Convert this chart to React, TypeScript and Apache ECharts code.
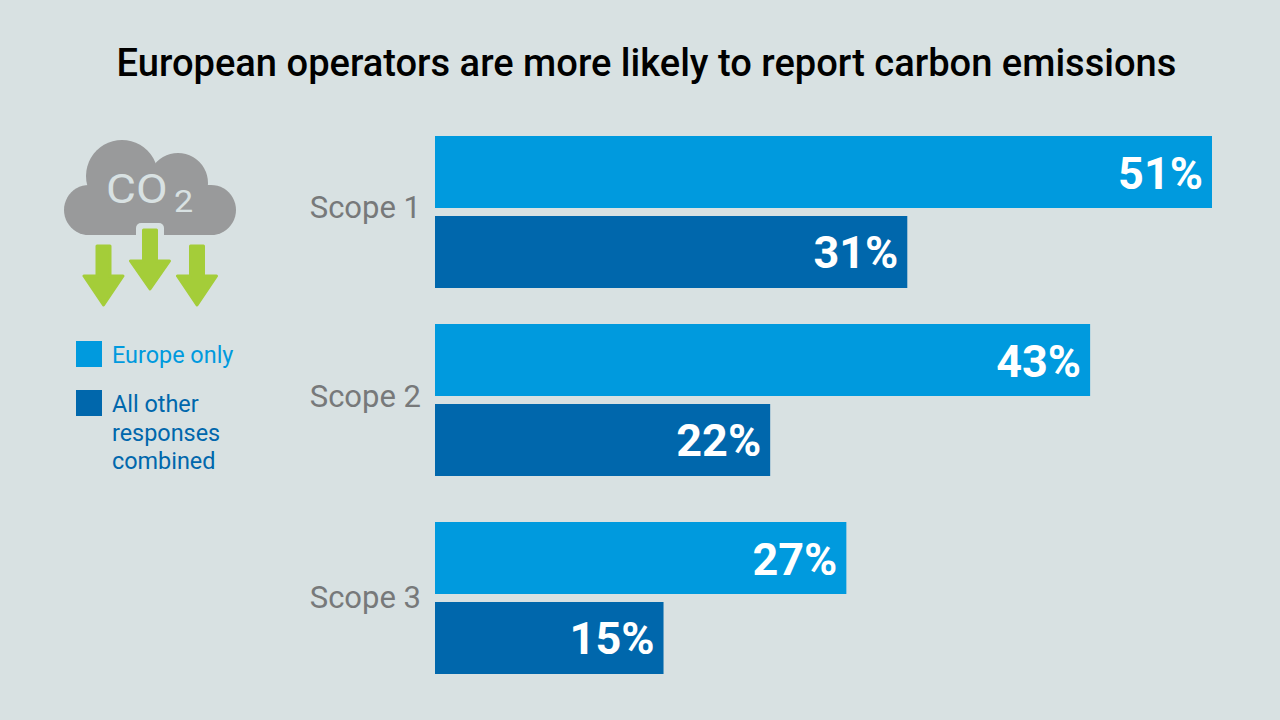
import React, { useEffect, useRef } from "react";
import * as echarts from "echarts";

const titleText = "European operators are more likely to report carbon emissions";
const scopes = ["Scope 1", "Scope 2", "Scope 3"];
const europeOnly = [51, 43, 27];
const allOther = [31, 22, 15];
const seriesNames = ["Europe only", "All other\nresponses\ncombined"];

const BG = "#d8e1e2";
const BLUE = "#009ade";
const NAVY = "#0067ac";
const GREY = "#999a9b";
const GREEN = "#a4cd39";
const FONT = "Roboto";

const gridTops = [136, 324, 522];
const labelLift = [10, 8, 1];

const arrow = (cx: number, top: number, neck: number, tip: number) => ({
  type: "polygon",
  z: 5,
  shape: {
    points: [
      [cx - 6.5, top], [cx + 6.5, top], [cx + 6.5, neck], [cx + 19.5, neck],
      [cx, tip], [cx - 19.5, neck], [cx - 6.5, neck],
    ],
  },
  style: { fill: GREEN, stroke: GREEN, lineWidth: 3, lineJoin: "round" },
});

const blob = (cx: number, cy: number, r: number) => ({
  type: "circle", z: 2, shape: { cx, cy, r }, style: { fill: GREY },
});

export default function App() {
  const ref = useRef<HTMLDivElement>(null);
  useEffect(() => {
    document.body.style.margin = "0";
    document.body.style.background = BG;
    const chart = echarts.init(ref.current!, undefined, { renderer: "svg" });
    const valueLabel = {
      show: true,
      position: "insideRight",
      distance: 9,
      offset: [0, 1],
      formatter: "{c}%",
      color: "#ffffff",
      fontFamily: FONT,
      fontWeight: 700,
      fontSize: 45,
    };
    chart.setOption({
      animation: false,
      backgroundColor: BG,
      title: {
        text: titleText,
        left: 641.5,
        top: 39,
        textAlign: "center",
        textStyle: { color: "#000", fontFamily: FONT, fontWeight: 500, fontSize: 38.1 },
      },
      grid: gridTops.map((top) => ({ left: 435, right: 68, top, height: 152 })),
      xAxis: gridTops.map((_, i) => ({
        type: "value", gridIndex: i, min: 0, max: 51, show: false,
      })),
      yAxis: gridTops.map((_, i) => ({
        type: "category",
        gridIndex: i,
        inverse: true,
        data: [scopes[i]],
        axisLine: { show: false },
        axisTick: { show: false },
        axisLabel: {
          margin: 14,
          color: "#77797a",
          fontFamily: FONT,
          fontSize: 31,
          verticalAlign: "bottom",
          lineHeight: labelLift[i],
        },
      })),
      series: gridTops.flatMap((_, i) => [
        {
          type: "bar", name: seriesNames[0], xAxisIndex: i, yAxisIndex: i,
          data: [europeOnly[i]], barWidth: 72, barGap: "11.11%",
          itemStyle: { color: BLUE }, label: valueLabel,
        },
        {
          type: "bar", name: seriesNames[1], xAxisIndex: i, yAxisIndex: i,
          data: [allOther[i]], barWidth: 72, barGap: "11.11%",
          itemStyle: { color: NAVY }, label: valueLabel,
        },
      ]),
      graphic: [
        blob(89, 210, 25),
        blob(122, 176, 36),
        blob(178, 183, 30),
        blob(211, 210, 25),
        { type: "rect", z: 2, shape: { x: 89, y: 185, width: 122, height: 50 }, style: { fill: GREY } },
        { type: "rect", z: 3, shape: { x: 136, y: 223, width: 28, height: 20, r: 5 }, style: { fill: BG } },
        arrow(150, 230, 261, 289),
        arrow(103.5, 246, 276, 305),
        arrow(197, 246, 276, 305),
        { type: "text", z: 4, x: 106, y: 170, scaleX: 1.15, style: { text: "CO", fill: BG, font: `400 40px ${FONT}` } },
        { type: "text", z: 4, x: 174, y: 186, scaleX: 1.1, style: { text: "2", fill: BG, font: `400 31px ${FONT}` } },
        { type: "rect", shape: { x: 76, y: 341, width: 26, height: 26 }, style: { fill: BLUE } },
        { type: "rect", shape: { x: 76, y: 390, width: 26, height: 26 }, style: { fill: NAVY } },
        { type: "text", x: 112, y: 341, style: { text: seriesNames[0], fill: BLUE, font: `400 23.4px ${FONT}`, lineHeight: 28.5 } },
        { type: "text", x: 112, y: 390, style: { text: seriesNames[1], fill: NAVY, font: `400 23.4px ${FONT}`, lineHeight: 28.5 } },
      ],
    });
    return () => chart.dispose();
  }, []);
  return (
    <div
      ref={ref}
      style={{ position: "absolute", left: 0, top: 0, width: 1280, height: 720 }}
    />
  );
}
